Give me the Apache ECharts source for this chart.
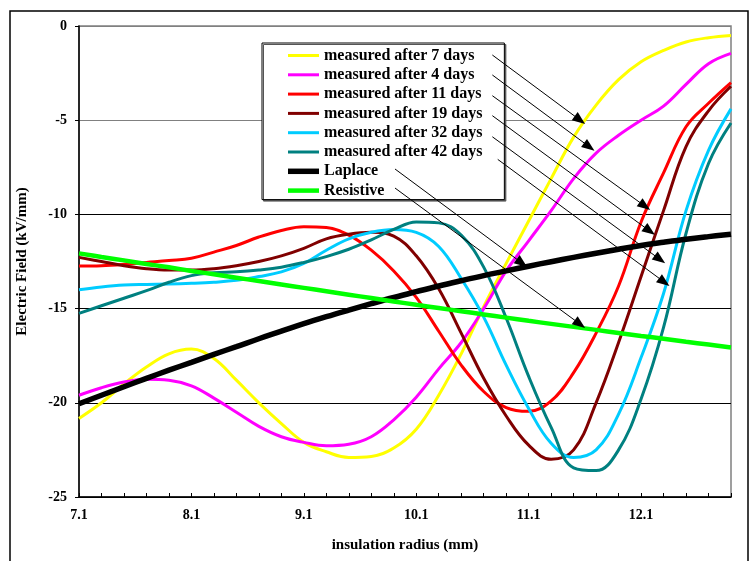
<!DOCTYPE html>
<html>
<head>
<meta charset="utf-8">
<script src="https://cdn.jsdelivr.net/npm/echarts@6/dist/echarts.min.js"></script>
<style>
html,body{margin:0;padding:0;background:#fff;}
#chart{width:751px;height:561px;}
</style>
</head>
<body>
<div id="chart"></div>
<script>
// x categories: insulation radius (mm)
const radius = ['7.1','7.3','7.5','7.7','7.9','8.1','8.3','8.5','8.7','8.9','9.1','9.3','9.5','9.7','9.9','10.1','10.3','10.5','10.7','10.9','11.1','11.3','11.5','11.7','11.9','12.1','12.3','12.5','12.7','12.9'];

// Electric field (kV/mm)
const after7days  = [-20.83,-20.0,-19.0,-18.1,-17.4,-17.15,-17.65,-18.8,-20.0,-21.1,-22.1,-22.6,-22.9,-22.85,-22.4,-21.4,-19.6,-17.4,-14.9,-12.6,-10.35,-8.1,-5.9,-4.2,-2.85,-1.9,-1.3,-0.85,-0.62,-0.5];
const after4days  = [-19.6,-19.2,-18.9,-18.75,-18.8,-19.1,-19.75,-20.5,-21.25,-21.8,-22.1,-22.28,-22.2,-21.8,-20.9,-19.7,-18.2,-16.8,-15.0,-13.0,-11.4,-9.8,-8.1,-6.75,-5.8,-5.0,-4.25,-3.1,-2.0,-1.45];
const after11days = [-12.74,-12.72,-12.65,-12.55,-12.45,-12.33,-12.0,-11.65,-11.2,-10.85,-10.65,-10.7,-11.1,-11.9,-13.0,-14.4,-16.2,-18.0,-19.4,-20.25,-20.45,-19.9,-18.4,-16.3,-13.8,-10.4,-7.8,-5.35,-4.1,-3.0];
const after19days = [-12.28,-12.5,-12.72,-12.88,-12.95,-12.95,-12.88,-12.72,-12.5,-12.2,-11.8,-11.3,-11.05,-10.95,-11.15,-12.2,-13.95,-16.3,-18.7,-20.7,-22.25,-23.0,-22.5,-20.0,-16.8,-13.3,-9.8,-6.4,-4.5,-3.2];
const after32days = [-14.0,-13.85,-13.75,-13.72,-13.7,-13.66,-13.6,-13.5,-13.3,-13.05,-12.6,-11.9,-11.3,-10.95,-10.8,-10.95,-11.7,-13.4,-15.45,-18.0,-20.3,-22.15,-22.9,-22.5,-20.6,-17.6,-14.2,-9.8,-6.6,-4.4];
const after42days = [-15.25,-14.85,-14.45,-14.05,-13.6,-13.25,-13.1,-13.05,-12.95,-12.8,-12.55,-12.24,-11.85,-11.35,-10.8,-10.4,-10.45,-11.1,-12.8,-15.5,-18.6,-21.3,-23.45,-23.6,-22.5,-19.8,-16.0,-11.0,-7.3,-5.15];
const laplace     = [-20.05,-19.6,-19.15,-18.7,-18.27,-17.85,-17.43,-17.02,-16.6,-16.2,-15.8,-15.43,-15.08,-14.74,-14.41,-14.1,-13.8,-13.52,-13.25,-13.0,-12.75,-12.51,-12.28,-12.06,-11.85,-11.65,-11.48,-11.32,-11.18,-11.05];
const resistive   = [-12.07,-12.26,-12.44,-12.63,-12.81,-13.0,-13.18,-13.36,-13.54,-13.72,-13.9,-14.08,-14.26,-14.44,-14.62,-14.8,-14.97,-15.14,-15.31,-15.48,-15.65,-15.81,-15.97,-16.13,-16.29,-16.45,-16.6,-16.76,-16.91,-17.06];

const seriesNames = ['measured after 7 days','measured after 4 days','measured after 11 days','measured after 19 days','measured after 32 days','measured after 42 days','Laplace','Resistive'];
const seriesData = [after7days, after4days, after11days, after19days, after32days, after42days, laplace, resistive];
const seriesColors = ['#FFFF00','#FF00FF','#FF0000','#800000','#00CCFF','#008080','#000000','#00FF00'];
const seriesWidths = [3,3,3,3,3,3,5.5,4.5];

// annotation arrows: [start radius, start field, end radius, end field]
const arrowSegments = [
  [10.777,-1.54, 11.556,-4.99],
  [10.777,-2.60, 11.639,-6.41],
  [10.777,-3.70, 12.134,-9.56],
  [10.777,-4.76, 12.176,-10.88],
  [10.777,-5.88, 12.268,-12.39],
  [10.825,-7.08, 12.306,-13.59],
  [9.911,-7.59, 11.040,-12.58],
  [9.911,-8.60, 11.556,-15.82]
];

const FONT = '"Liberation Serif","Times New Roman",serif';

const chart = echarts.init(document.getElementById('chart'), null, {renderer:'canvas'});

const series = seriesNames.map((name, i) => ({
  name: name,
  type: 'line',
  data: seriesData[i],
  symbol: 'none',
  smooth: 0.4,
  lineStyle: {color: seriesColors[i], width: seriesWidths[i]},
  itemStyle: {color: seriesColors[i]},
  animation: false,
  z: 2
}));

series.push({
  name: 'arrows',
  type: 'line',
  xAxisIndex: 1,
  data: [],
  silent: true,
  animation: false,
  z: 5,
  markLine: {
    silent: true,
    animation: false,
    symbol: ['none','triangle'],
    symbolSize: [10, 13],
    label: {show: false},
    lineStyle: {color: '#000', width: 1, type: 'solid'},
    emphasis: {disabled: true},
    data: arrowSegments.map(a => [{coord: [a[0], a[1]]}, {coord: [a[2], a[3]]}])
  }
});

chart.setOption({
  backgroundColor: '#fff',
  animation: false,
  graphic: [{
    type: 'rect',
    shape: {x: 10, y: 11, width: 738, height: 560},
    style: {fill: 'none', stroke: '#000', lineWidth: 1.5},
    silent: true, z: -1
  }],
  grid: {left: 79, right: 20, top: 26, bottom: 64, show: true, borderColor: '#808080', borderWidth: 1.5, backgroundColor: 'transparent'},
  legend: {
    orient: 'vertical',
    left: 262, top: 43,
    padding: [4.5, 22, 1, 26],
    itemWidth: 31, itemHeight: 14, itemGap: 3.3,
    backgroundColor: '#fff',
    borderColor: '#000', borderWidth: 1,
    shadowColor: '#555', shadowOffsetX: 1.5, shadowOffsetY: 1.5, shadowBlur: 0,
    selectedMode: false,
    textStyle: {fontFamily: FONT, fontWeight: 'bold', fontSize: 16, color: '#000', lineHeight: 16},
    data: seriesNames.map((n, i) => ({name: n, itemStyle: {color: seriesColors[i]}, lineStyle: {width: 0}, icon: 'path://M0,0 L31,0 L31,' + (seriesWidths[i]) + ' L0,' + seriesWidths[i] + ' Z'}))
  },
  xAxis: [{
    type: 'category',
    data: radius,
    boundaryGap: false,
    position: 'bottom',
    name: 'insulation radius (mm)',
    nameLocation: 'middle',
    nameGap: 41,
    nameTextStyle: {fontFamily: FONT, fontWeight: 'bold', fontSize: 15, color: '#000'},
    axisLine: {onZero: false, lineStyle: {color: '#000', width: 1.5}},
    axisTick: {show: true, inside: true, length: 4, interval: 0, lineStyle: {color: '#000', width: 1}},
    axisLabel: {interval: 4, margin: 11, fontFamily: FONT, fontWeight: 'bold', fontSize: 14, color: '#000'},
    splitLine: {show: false}
  }, {
    type: 'value',
    min: 7.1, max: 12.9,
    position: 'top',
    show: false,
    axisLine: {show: false, onZero: false},
    axisTick: {show: false},
    axisLabel: {show: false},
    splitLine: {show: false}
  }],
  yAxis: {
    type: 'value',
    min: -25, max: 0, interval: 5,
    position: 'left',
    name: 'Electric Field (kV/mm)',
    nameLocation: 'middle',
    nameRotate: 90,
    nameGap: 49,
    nameTextStyle: {fontFamily: FONT, fontWeight: 'bold', fontSize: 15, color: '#000'},
    axisLine: {show: true, onZero: false, lineStyle: {color: '#000', width: 1.5}},
    axisTick: {show: true, inside: false, length: 4, lineStyle: {color: '#000'}},
    axisLabel: {margin: 12, fontFamily: FONT, fontWeight: 'bold', fontSize: 14, color: '#000'},
    splitLine: {show: true, lineStyle: {color: ['#000','#000','#000','#000','#808080','#808080'], width: 1}}
  },
  series: series
});
</script>
</body>
</html>
